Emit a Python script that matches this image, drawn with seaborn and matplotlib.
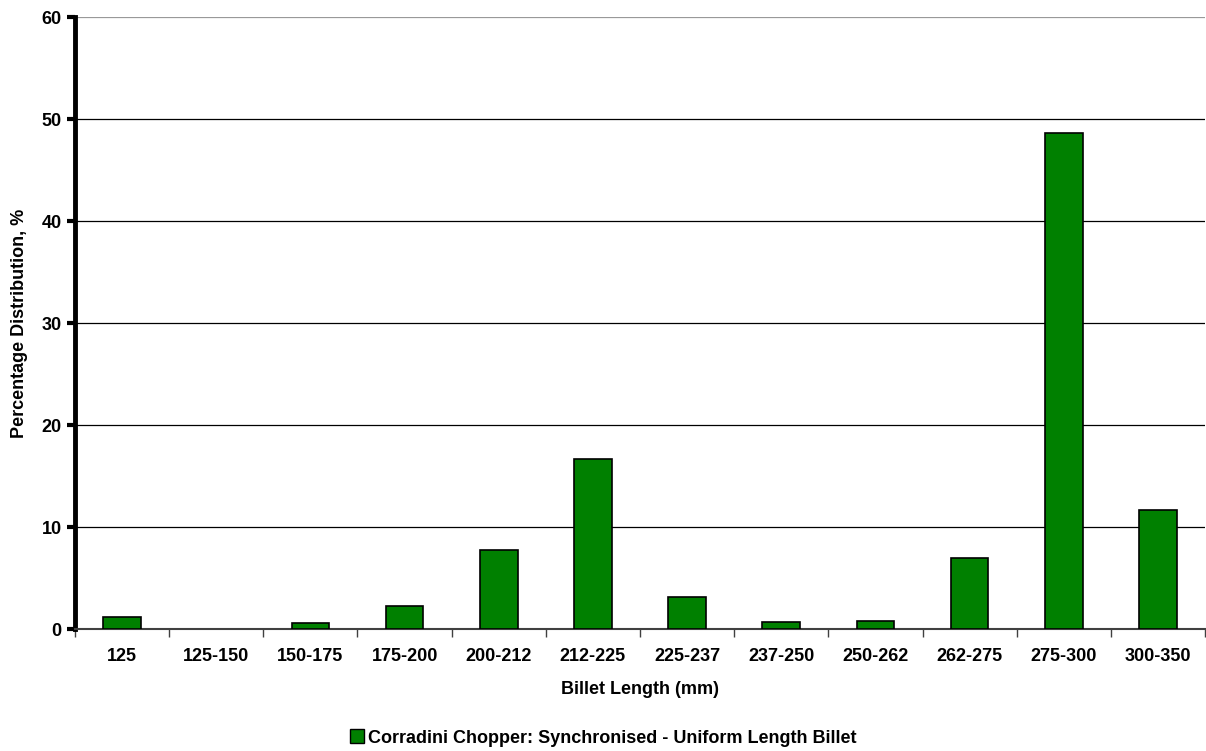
import matplotlib
matplotlib.use('Agg')
import matplotlib.pyplot as plt
import seaborn as sns
import pandas as pd
from matplotlib.patches import Patch

categories = ['125', '125-150', '150-175', '175-200', '200-212', '212-225',
              '225-237', '237-250', '250-262', '262-275', '275-300', '300-350']
values = [1.15, 0.0, 0.6, 2.25, 7.75, 16.7, 3.15, 0.65, 0.75, 7.0, 48.6, 11.7]
series_name = 'Corradini Chopper: Synchronised - Uniform Length Billet'

df = pd.DataFrame({'cat': categories, 'pct': values})

sns.set_style('white')
plt.rcParams['font.family'] = ['Liberation Sans', 'DejaVu Sans']
plt.rcParams['font.weight'] = 'bold'
plt.rcParams['text.color'] = 'black'
plt.rcParams['axes.labelcolor'] = 'black'
plt.rcParams['xtick.labelcolor'] = 'black'
plt.rcParams['ytick.labelcolor'] = 'black'
fs = 13

fig = plt.figure(figsize=(12.06, 7.51), dpi=100)
ax = fig.add_axes([75 / 1206, 1 - 629 / 751, (1205 - 75) / 1206, (629 - 17) / 751])

sns.barplot(data=df, x='cat', y='pct', color='#008000', width=0.4,
            edgecolor='black', linewidth=1.2, saturation=1, ax=ax, zorder=3)
# empty bins show nothing
for p, v in zip(ax.patches, values):
    if v == 0:
        p.set_linewidth(0)

ax.set_ylim(0, 60)
ax.set_xlim(-0.5, len(categories) - 0.5)
ax.set_yticks(range(0, 61, 10))
for y in range(10, 61, 10):
    ax.axhline(y, color='black' if y < 60 else '#999999', lw=0.9, zorder=1)

# x ticks between categories
ax.set_xticks([i - 0.5 for i in range(len(categories) + 1)], minor=True)
ax.set_xticks(range(len(categories)))
ax.set_xticklabels(categories, fontsize=fs, fontweight='bold', color='black')
ax.tick_params(axis='x', which='major', length=0, pad=14)
ax.tick_params(axis='x', which='minor', length=6, width=1, color='#404040', direction='out', bottom=True)
ax.tick_params(axis='y', length=6, width=3, color='black', direction='out', labelsize=fs,
               labelcolor='black', left=True)
for lbl in ax.get_yticklabels():
    lbl.set_fontweight('bold')

for s in ['top', 'right']:
    ax.spines[s].set_visible(False)
ax.spines['left'].set_linewidth(3.5)
ax.spines['left'].set_color('black')
ax.spines['bottom'].set_linewidth(1.5)
ax.spines['bottom'].set_color('#404040')

ax.set_xlabel('Billet Length (mm)', fontsize=fs, fontweight='bold', labelpad=11, color='black')
ax.set_ylabel('Percentage Distribution, %', fontsize=fs, fontweight='bold', labelpad=10, color='black')

handle = Patch(facecolor='#008000', edgecolor='black', linewidth=1)
leg = fig.legend([handle], [series_name], loc='center', bbox_to_anchor=(603 / 1206, 1 - 738 / 751),
                 frameon=False, handlelength=0.8, handleheight=0.8, handletextpad=0.2,
                 prop={'weight': 'bold', 'size': fs})
for t in leg.get_texts():
    t.set_color('black')

fig.savefig('out.png', dpi=100)
